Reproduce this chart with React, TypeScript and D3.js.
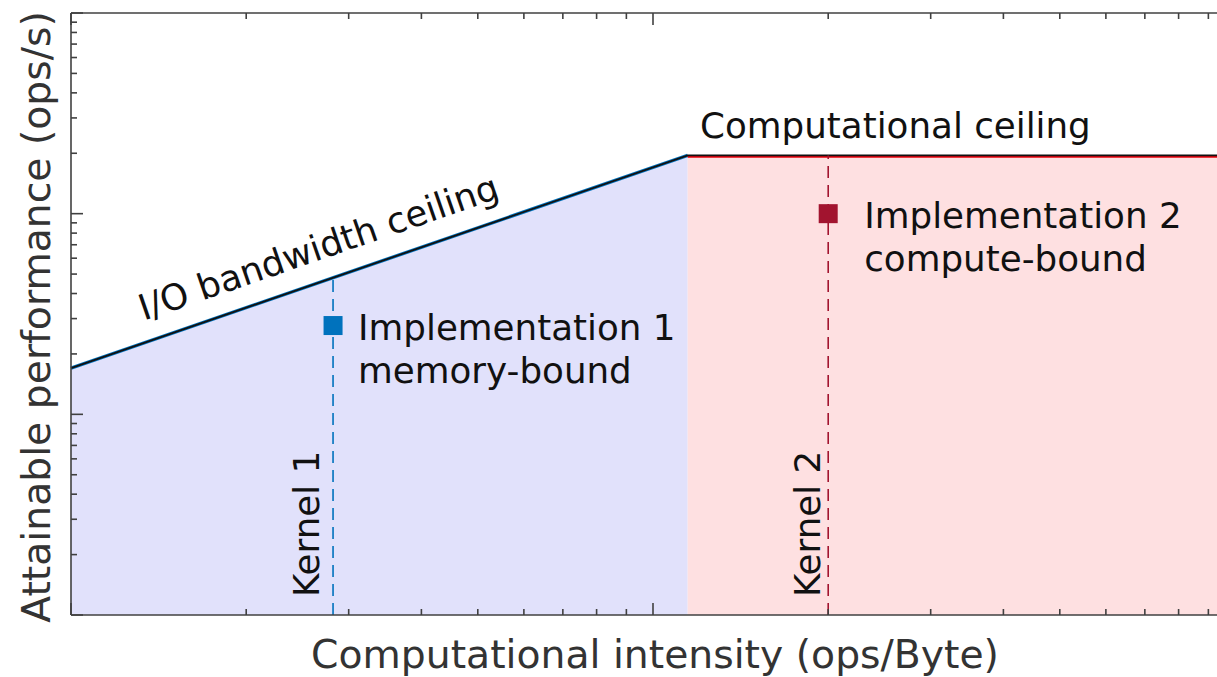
import React from "react";
import * as d3 from "d3";

// Roofline model: attainable performance vs. computational intensity
const intensityDomain = [1, 100];
const performanceDomain = [1, 1000];
const bandwidth = 17; // slope of the I/O ceiling (ops/s per ops/Byte)
const peakPerformance = 195; // computational ceiling (ops/s)

const kernelNames = ["Kernel 1", "Kernel 2"];
const kernelIntensity = [2.82, 20];
const kernelPerformance = [27.7, 100];
const implementationLines = [
  ["Implementation 1", "memory-bound"],
  ["Implementation 2", "compute-bound"],
];
const kernelColors = ["#0072bd", "#a2142f"];

const xLabel = "Computational intensity (ops/Byte)";
const yLabel = "Attainable performance (ops/s)";
const ioLabel = "I/O bandwidth ceiling";
const computeLabel = "Computational ceiling";

const W = 1217;
const H = 677;
const left = 71;
const bottom = 615;
const top = 13;
const decadeX = 582;
const right = left + decadeX * 2;

// label placement relative to each kernel's line
const kernelLabelShift = [-14, -8];
const implLabelShift = [25, 36];

const FONT = "'DejaVu Sans', sans-serif";
const ANNOT = 35.7;
const AXIS = 39.3;

export default function App() {
  const x = d3.scaleLog().domain(intensityDomain).range([left, right]);
  const y = d3.scaleLog().domain(performanceDomain).range([bottom, top]);

  const ridge = peakPerformance / bandwidth;
  const roof = (i: number) => Math.min(bandwidth * i, peakPerformance);

  const memRegion = [
    [intensityDomain[0], performanceDomain[0]],
    [intensityDomain[0], roof(intensityDomain[0])],
    [ridge, peakPerformance],
    [ridge, performanceDomain[0]],
  ];
  const compRegion = [
    [ridge, performanceDomain[0]],
    [ridge, peakPerformance],
    [intensityDomain[1], peakPerformance],
    [intensityDomain[1], performanceDomain[0]],
  ];
  const area = d3
    .line<number[]>()
    .x((d) => x(d[0]))
    .y((d) => y(d[1]));

  const slopePts = [
    [intensityDomain[0], roof(intensityDomain[0])],
    [ridge, peakPerformance],
  ];
  const flatPts = [
    [ridge, peakPerformance],
    [intensityDomain[1], peakPerformance],
  ];
  const roofPts = [slopePts[0], slopePts[1], flatPts[1]];

  const angle =
    (Math.atan2(
      y(slopePts[1][1]) - y(slopePts[0][1]),
      x(slopePts[1][0]) - x(slopePts[0][0])
    ) *
      180) /
    Math.PI;
  const ioAt = 1.37;

  const xTicks = x.ticks();
  const yTicks = y.ticks();
  const isMajor = (v: number) => Math.abs(Math.log10(v) - Math.round(Math.log10(v))) < 1e-9;

  const axisColor = "#404040";
  const markerSize = 19;

  return (
    <div style={{ position: "absolute", left: 0, top: 0 }}>
      <svg width={W} height={H} style={{ display: "block", background: "#fff" }}>
        <path d={area(memRegion) + "Z"} fill="#e1e1fb" />
        <path d={area(compRegion) + "Z"} fill="#fee0e1" />

        {/* ceiling edges */}
        <path d={area(slopePts)!} fill="none" stroke="#0072bd" strokeWidth={3.4} />
        <path
          d={area(flatPts)!}
          fill="none"
          stroke="#e8000b"
          strokeWidth={2}
          transform="translate(0,1.4)"
        />
        <path d={area(roofPts)!} fill="none" stroke="#111" strokeWidth={1.8} />

        {/* kernels */}
        {kernelNames.map((name, i) => {
          const kx = x(kernelIntensity[i]);
          const ky = y(kernelPerformance[i]);
          return (
            <g key={name}>
              <line
                x1={kx}
                x2={kx}
                y1={bottom}
                y2={y(roof(kernelIntensity[i]))}
                stroke={kernelColors[i]}
                strokeWidth={1.6}
                strokeDasharray="12,7"
              />
              <rect
                x={kx - markerSize / 2}
                y={ky - markerSize / 2}
                width={markerSize}
                height={markerSize}
                fill={kernelColors[i]}
              />
              <text
                transform={`translate(${kx + kernelLabelShift[i]},597) rotate(-90)`}
                fontFamily={FONT}
                fontSize={ANNOT}
                fill="#111"
              >
                {name}
              </text>
              {implementationLines[i].map((t, j) => (
                <text
                  key={t}
                  x={kx + implLabelShift[i]}
                  y={ky + 14 + j * 43}
                  fontFamily={FONT}
                  fontSize={ANNOT}
                  fill="#111"
                >
                  {t}
                </text>
              ))}
            </g>
          );
        })}

        <text
          transform={`translate(${x(ioAt)},${y(roof(ioAt))}) rotate(${angle})`}
          y={-21}
          fontFamily={FONT}
          fontSize={ANNOT}
          fill="#111"
        >
          {ioLabel}
        </text>
        <text x={700} y={y(peakPerformance) - 17} fontFamily={FONT} fontSize={ANNOT} fill="#111">
          {computeLabel}
        </text>

        {/* axes box */}
        <g stroke={axisColor} strokeWidth={1.6}>
          <line x1={left} x2={left} y1={top} y2={bottom} />
          <line x1={left} x2={right} y1={bottom} y2={bottom} />
          <line x1={left} x2={right} y1={top} y2={top} />
          {xTicks.map((t, i) => {
            const len = isMajor(t) ? 12 : 6;
            return (
              <g key={"x" + i}>
                <line x1={x(t)} x2={x(t)} y1={bottom} y2={bottom - len} />
                <line x1={x(t)} x2={x(t)} y1={top} y2={top + len} />
              </g>
            );
          })}
          {yTicks.map((t, i) => {
            const len = isMajor(t) ? 12 : 6;
            return <line key={"y" + i} x1={left} x2={left + len} y1={y(t)} y2={y(t)} />;
          })}
        </g>

        <text
          x={(left + right) / 2 + 2}
          y={668}
          textAnchor="middle"
          fontFamily={FONT}
          fontSize={AXIS}
          fill="#333"
        >
          {xLabel}
        </text>
        <text
          transform={`translate(50,${(top + bottom) / 2 + 3}) rotate(-90)`}
          textAnchor="middle"
          fontFamily={FONT}
          fontSize={AXIS}
          fill="#333"
        >
          {yLabel}
        </text>
      </svg>
    </div>
  );
}
